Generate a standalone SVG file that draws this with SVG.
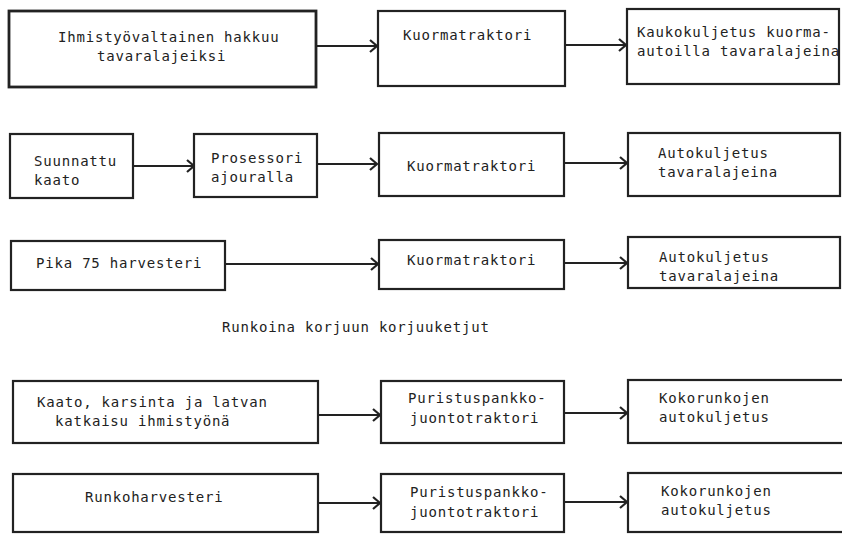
<svg xmlns="http://www.w3.org/2000/svg" width="842" height="535" viewBox="0 0 842 535">
  <style>
    .box { fill: #fff; stroke: #222; stroke-width: 2.2; }
    .thick { stroke-width: 2.8; }
    .edge { fill: none; stroke: #222; stroke-width: 2; }
    text { font-family: "DejaVu Sans Mono", "Liberation Mono", monospace; font-size: 14px; letter-spacing: 0.8px; fill: #222; }
  </style>
  <defs>
    <marker id="chev" markerUnits="userSpaceOnUse" markerWidth="12" markerHeight="14" refX="9" refY="7" orient="auto">
      <path d="M2,1 L9,7 L2,13" fill="none" stroke="#222" stroke-width="2.2"/>
    </marker>
  </defs>
  <rect width="842" height="535" fill="#fff"/>

  <!-- Connectors -->
  <g id="connectors" class="edges">
    <path class="edge" d="M316,46 H377" marker-end="url(#chev)"/>
    <path class="edge" d="M565,45 H626" marker-end="url(#chev)"/>
    <path class="edge" d="M133,166 H194" marker-end="url(#chev)"/>
    <path class="edge" d="M317,164 H377" marker-end="url(#chev)"/>
    <path class="edge" d="M564,163 H627" marker-end="url(#chev)"/>
    <path class="edge" d="M225,264 H378" marker-end="url(#chev)"/>
    <path class="edge" d="M564,263 H627" marker-end="url(#chev)"/>
    <path class="edge" d="M318,415 H380" marker-end="url(#chev)"/>
    <path class="edge" d="M564,413 H627" marker-end="url(#chev)"/>
    <path class="edge" d="M318,503 H380" marker-end="url(#chev)"/>
    <path class="edge" d="M564,502 H627" marker-end="url(#chev)"/>
  </g>

  <!-- Row 1 -->
  <g id="n-ihmistyo">
    <rect class="box thick" x="9" y="11" width="307" height="76"/>
    <text x="58" y="42">Ihmistyövaltainen hakkuu</text>
    <text x="97" y="61">tavaralajeiksi</text>
  </g>
  <g id="n-kuorma1">
    <rect class="box" x="378" y="11" width="187" height="75"/>
    <text x="403" y="40">Kuormatraktori</text>
  </g>
  <g id="n-kauko">
    <rect class="box" x="627" y="9" width="212" height="75"/>
    <text x="637" y="37">Kaukokuljetus kuorma-</text>
    <text x="637" y="56">autoilla tavaralajeina</text>
  </g>

  <!-- Row 2 -->
  <g id="n-suunnattu">
    <rect class="box" x="10" y="134" width="123" height="64"/>
    <text x="34" y="166">Suunnattu</text>
    <text x="34" y="185">kaato</text>
  </g>
  <g id="n-prosessori">
    <rect class="box" x="194" y="134" width="123" height="63"/>
    <text x="211" y="163">Prosessori</text>
    <text x="211" y="182">ajouralla</text>
  </g>
  <g id="n-kuorma2">
    <rect class="box" x="379" y="133" width="185" height="63"/>
    <text x="407" y="171">Kuormatraktori</text>
  </g>
  <g id="n-auto2">
    <rect class="box" x="628" y="133" width="212" height="63"/>
    <text x="658" y="158">Autokuljetus</text>
    <text x="658" y="177">tavaralajeina</text>
  </g>

  <!-- Row 3 -->
  <g id="n-pika">
    <rect class="box" x="11" y="241" width="214" height="49"/>
    <text x="36" y="268">Pika 75 harvesteri</text>
  </g>
  <g id="n-kuorma3">
    <rect class="box" x="379" y="240" width="185" height="49"/>
    <text x="407" y="265">Kuormatraktori</text>
  </g>
  <g id="n-auto3">
    <rect class="box" x="628" y="237" width="212" height="51"/>
    <text x="659" y="262">Autokuljetus</text>
    <text x="659" y="281">tavaralajeina</text>
  </g>

  <!-- Section heading -->
  <text id="heading" x="222" y="332">Runkoina korjuun korjuuketjut</text>

  <!-- Row 4 -->
  <g id="n-kaato">
    <rect class="box" x="13" y="381" width="305" height="62"/>
    <text x="37" y="407">Kaato, karsinta ja latvan</text>
    <text x="55" y="426">katkaisu ihmistyönä</text>
  </g>
  <g id="n-puristus4">
    <rect class="box" x="381" y="381" width="183" height="62"/>
    <text x="408" y="403">Puristuspankko-</text>
    <text x="410" y="423">juontotraktori</text>
  </g>
  <g id="n-koko4">
    <rect class="box" x="628" y="380" width="230" height="63"/>
    <text x="659" y="403">Kokorunkojen</text>
    <text x="659" y="422">autokuljetus</text>
  </g>

  <!-- Row 5 -->
  <g id="n-runkoharv">
    <rect class="box" x="13" y="474" width="305" height="58"/>
    <text x="85" y="502">Runkoharvesteri</text>
  </g>
  <g id="n-puristus5">
    <rect class="box" x="381" y="474" width="183" height="58"/>
    <text x="410" y="497">Puristuspankko-</text>
    <text x="410" y="517">juontotraktori</text>
  </g>
  <g id="n-koko5">
    <rect class="box" x="628" y="473" width="230" height="59"/>
    <text x="661" y="496">Kokorunkojen</text>
    <text x="661" y="515">autokuljetus</text>
  </g>
</svg>
